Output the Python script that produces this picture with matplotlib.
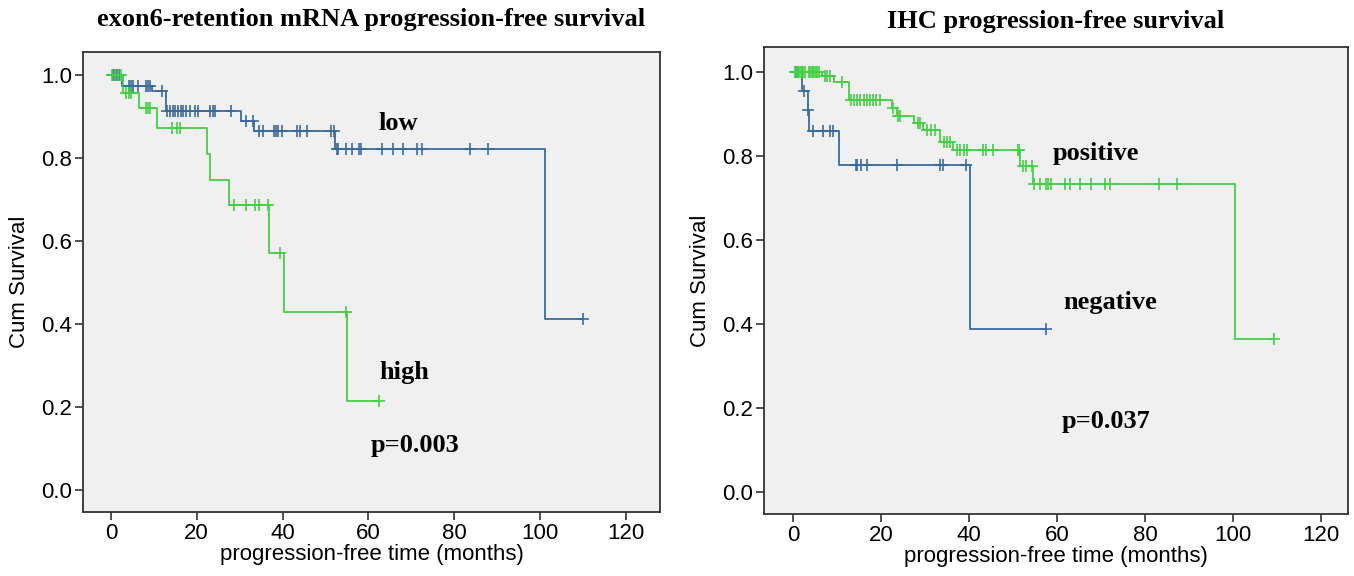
import numpy as np
import matplotlib
matplotlib.use("Agg")
import matplotlib.pyplot as plt

# ---- left panel: exon6-retention mRNA
low_t = [0, 2.6, 9.5, 12.8, 30.3, 33.4, 52.3, 101.2, 110.0]
low_s = [1.0, 0.973, 0.961, 0.913, 0.889, 0.865, 0.822, 0.411, 0.411]
low_cens = [0.5, 1.0, 1.5, 2.0, 4.3, 4.8, 5.2, 6.4, 8.3, 8.7, 9.1, 11.8,
            13.1, 13.8, 14.4, 15.0, 15.6, 16.3, 16.8, 17.5, 18.4, 19.6, 20.3,
            23.1, 23.7, 24.2, 28.1, 31.4, 33.2, 34.6, 35.4, 38.0, 38.5, 39.0,
            39.8, 43.4, 44.1, 45.6, 51.4, 52.0, 52.6, 53.0, 54.9, 56.3, 57.9,
            58.4, 63.2, 65.8, 68.1, 71.4, 72.6, 83.8, 87.9, 110.0]

high_t = [0, 2.8, 6.5, 10.8, 22.5, 23.1, 27.6, 36.8, 40.4, 55.1, 62.5]
high_s = [1.0, 0.957, 0.92, 0.871, 0.81, 0.747, 0.687, 0.572, 0.428, 0.214, 0.214]
high_cens = [0.3, 0.9, 1.7, 2.4, 3.6, 4.3, 4.8, 8.1, 8.7, 9.2, 14.3, 15.3,
             16.1, 28.7, 31.5, 33.6, 34.6, 36.6, 39.4, 54.8, 62.5]

# ---- right panel: IHC
pos_t = [0, 6.5, 9.2, 12.8, 22.4, 23.5, 27.5, 29.6, 33.3, 36.3, 51.5, 54.5,
         100.5, 109.2]
pos_s = [1.0, 0.99, 0.977, 0.933, 0.915, 0.895, 0.879, 0.862, 0.833, 0.814,
         0.776, 0.733, 0.364, 0.364]
pos_cens = [0.5, 0.8, 1.1, 1.4, 1.7, 2.0, 2.3, 2.6, 3.6, 3.9, 4.2, 4.5, 4.8,
            5.1, 5.4, 5.8, 7.2, 7.8, 8.4, 11.0, 13.1, 13.9, 14.5, 15.2, 16.0,
            16.7, 17.5, 18.2, 18.9, 19.7, 22.8, 23.9, 24.4, 28.3, 28.8, 30.5,
            31.3, 32.2, 34.2, 34.9, 35.6, 37.2, 37.9, 38.9, 39.6, 43.1, 43.9,
            45.5, 51.0, 51.4, 52.2, 53.0, 54.3, 54.8, 56.1, 57.5, 58.0, 58.5,
            61.8, 62.9, 65.3, 67.8, 70.9, 72.1, 83.2, 87.3, 109.2]

neg_t = [0, 2.0, 3.3, 3.6, 10.5, 40.1, 57.5]
neg_s = [1.0, 0.955, 0.909, 0.860, 0.779, 0.389, 0.389]
neg_cens = [0.6, 1.2, 2.5, 3.4, 4.6, 6.7, 8.4, 9.0, 14.2, 14.5, 15.5, 16.8,
            23.7, 33.3, 34.1, 39.4, 57.5]

xticks = [0, 20, 40, 60, 80, 100, 120]
yticks = [0.0, 0.2, 0.4, 0.6, 0.8, 1.0]

BLUE = '#3a6b9e'
GREEN = '#44d044'
SERIF = 'Liberation Serif'
SANS = 'Liberation Sans'


def km(ax, t, s, cens, color):
    t = np.asarray(t)
    s = np.asarray(s)
    ax.step(t, s, where='post', color=color, lw=1.3, zorder=3)
    c = np.asarray(cens)
    idx = np.searchsorted(t, c, side='right') - 1
    ax.plot(c, s[idx], ls='none', marker='+', ms=9, mew=1.2, color=color,
            zorder=4)


def style(ax, title, xlim, ylim, tpad):
    ax.set_facecolor('#f0f0f0')
    ax.set_xlim(*xlim)
    ax.set_ylim(*ylim)
    ax.set_xticks(xticks)
    ax.set_yticks(yticks)
    ax.set_xticklabels([str(v) for v in xticks], family=SANS, fontsize=16)
    ax.set_yticklabels(['%.1f' % v for v in yticks], family=SANS, fontsize=16)
    ax.tick_params(direction='out', length=6, width=1.2, color='#333333', pad=2)
    for sp in ax.spines.values():
        sp.set_linewidth(1.3)
        sp.set_color('#333333')
    ax.set_xlabel('progression-free time (months)', family=SANS, fontsize=16,
                  labelpad=0)
    ax.set_ylabel('Cum Survival', family=SANS, fontsize=16, labelpad=8)
    ax.set_title(title, family=SERIF, fontweight='bold', fontsize=19, pad=tpad)


fig = plt.figure(figsize=(13.54, 5.76), dpi=100)
ax1 = fig.add_axes([0.0613, 0.1111, 0.4262, 0.7986])
ax2 = fig.add_axes([0.5643, 0.1076, 0.4313, 0.8108])

km(ax1, low_t, low_s, low_cens, BLUE)
km(ax1, high_t, high_s, high_cens, GREEN)
style(ax1, 'exon6-retention mRNA progression-free survival', (-6.5, 128), (-0.053, 1.055), 19)
txt = dict(family=SERIF, fontweight='bold', fontsize=19, ha='center', va='center')
ax1.text(67, 0.884, 'low', **txt)
ax1.text(68.3, 0.284, 'high', **txt)
ax1.text(70.9, 0.108, 'p=0.003', **txt)

km(ax2, neg_t, neg_s, neg_cens, BLUE)
km(ax2, pos_t, pos_s, pos_cens, GREEN)
style(ax2, 'IHC progression-free survival', (-6.6, 126.1), (-0.052, 1.06), 14)
ax2.text(68.9, 0.807, 'positive', **txt)
ax2.text(72, 0.452, 'negative', **txt)
ax2.text(71.1, 0.169, 'p=0.037', **txt)

fig.savefig('out.png', dpi=100)
